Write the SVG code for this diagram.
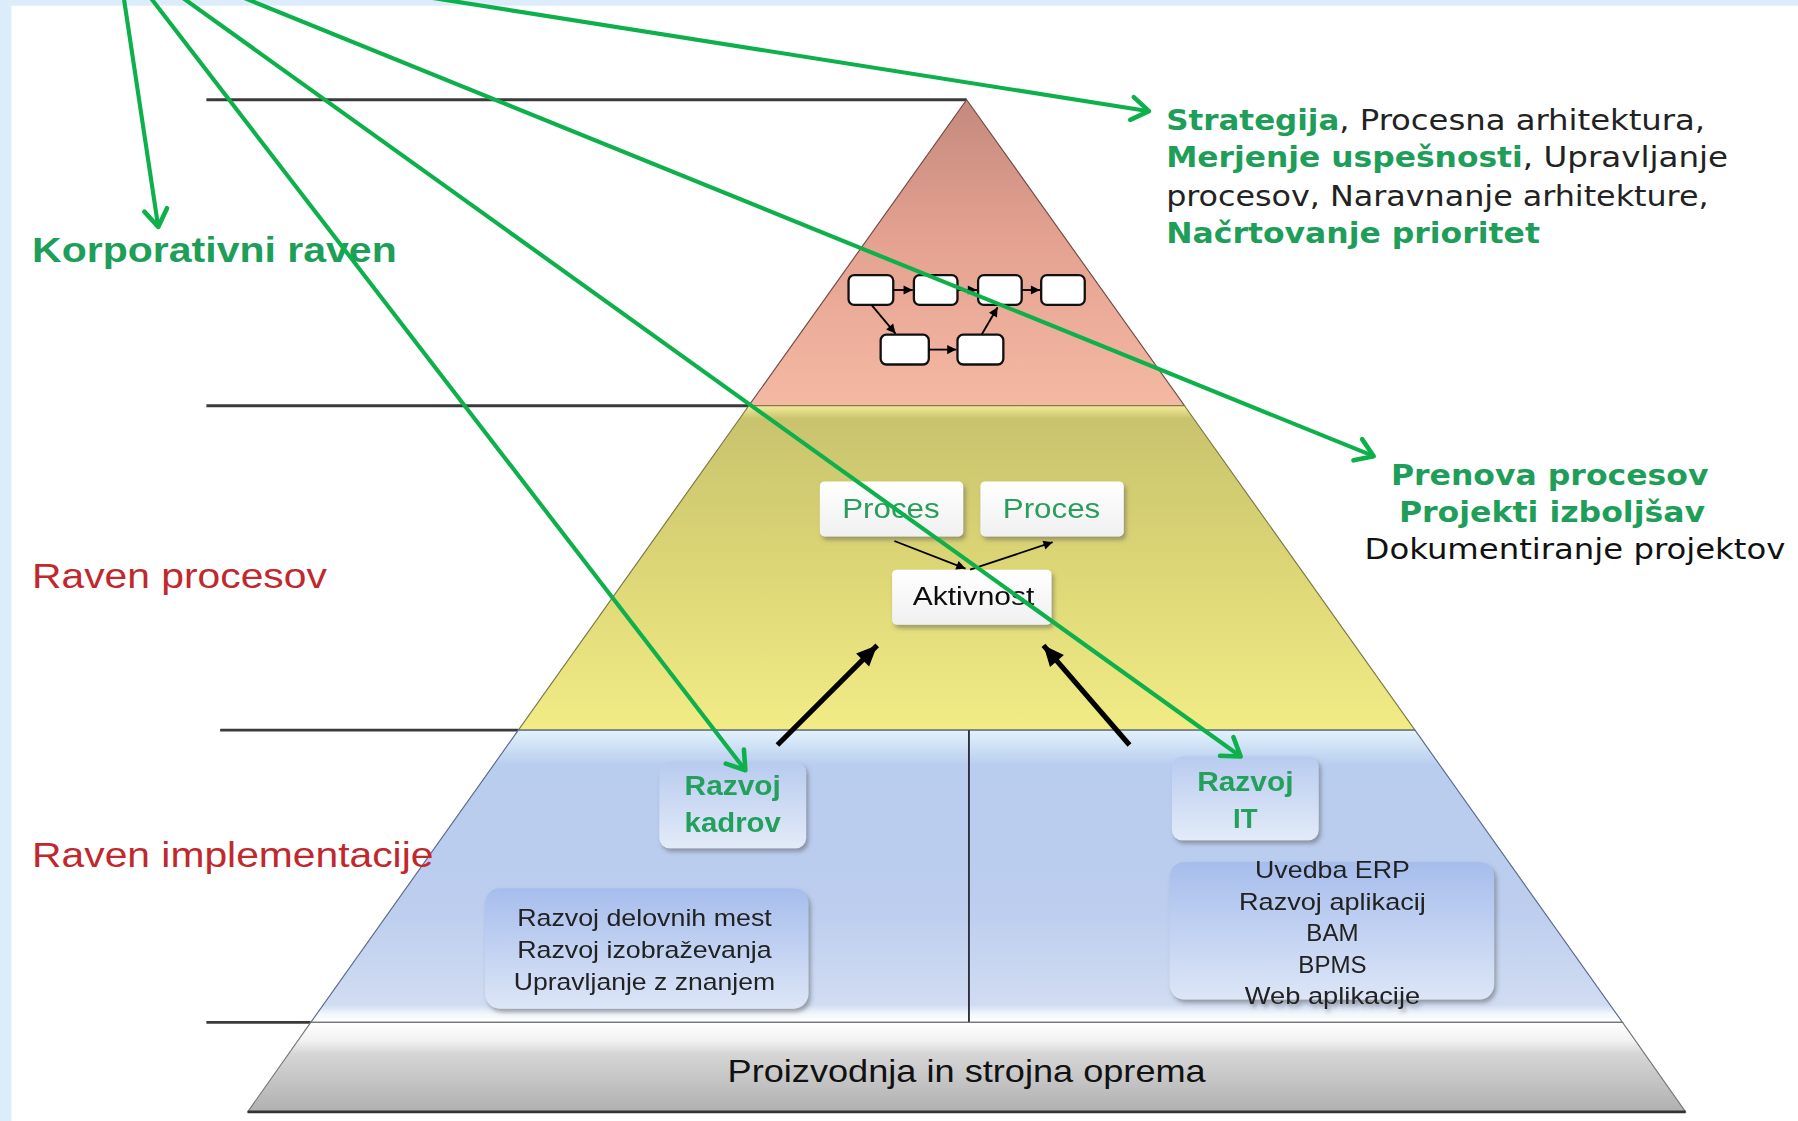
<svg xmlns="http://www.w3.org/2000/svg" width="1798" height="1121" viewBox="0 0 1798 1121">
<style>
.hl{stroke:#3a3a3a;stroke-width:2.5;fill:none}
.ga{stroke:#0db04b;stroke-width:3.6;fill:none;marker-end:url(#gh)}
.ba{stroke:#000;stroke-width:4.5;fill:none;marker-end:url(#bh)}
.sa{stroke:#000;stroke-width:1.6;fill:none;marker-end:url(#sh)}
.lvl{font-family:"Liberation Sans",Arial,sans-serif;font-size:31px}
.red{fill:#c0282e}
.grn{fill:#1e9e58}
.rt{font-family:"DejaVu Sans Condensed","DejaVu Sans",sans-serif;font-size:24px;fill:#222}
.rtb{font-weight:bold;fill:#1e9e58}
.pv{font-family:"DejaVu Sans",Verdana,sans-serif;font-size:24px}
.bx{font-family:"Liberation Sans",Arial,sans-serif;text-anchor:middle}
.sb{fill:#fff;stroke:#111;stroke-width:2}
</style>
<defs>
<marker id="gh" markerUnits="userSpaceOnUse" markerWidth="40" markerHeight="40" refX="0" refY="0" viewBox="-20 -20 40 40" orient="auto">
<path d="M-15,-10 L0,0 L-15,10" fill="none" stroke="#0db04b" stroke-width="4" stroke-linecap="round" stroke-linejoin="round"/>
</marker>
<marker id="bh" markerUnits="userSpaceOnUse" markerWidth="40" markerHeight="40" refX="0" refY="0" viewBox="-20 -20 40 40" orient="auto">
<path d="M-18,-8 L0,0 L-18,8 Z" fill="#000"/>
</marker>
<marker id="sh" markerUnits="userSpaceOnUse" markerWidth="20" markerHeight="20" refX="0" refY="0" viewBox="-10 -10 20 20" orient="auto">
<path d="M-8,-4 L0,0 L-8,4 Z" fill="#000"/>
</marker>
<linearGradient id="gPink" x1="0" y1="87" x2="0" y2="354" gradientUnits="userSpaceOnUse">
<stop offset="0" stop-color="#c48a7e"/>
<stop offset="0.45" stop-color="#e4a190"/>
<stop offset="1" stop-color="#f4b9a3"/>
</linearGradient>
<linearGradient id="gYel" x1="0" y1="354" x2="0" y2="637" gradientUnits="userSpaceOnUse">
<stop offset="0" stop-color="#f3ec9a"/>
<stop offset="0.04" stop-color="#c9c36e"/>
<stop offset="0.5" stop-color="#dcd676"/>
<stop offset="1" stop-color="#f1ec86"/>
</linearGradient>
<linearGradient id="gBlue" x1="0" y1="637" x2="0" y2="892" gradientUnits="userSpaceOnUse">
<stop offset="0" stop-color="#e2f2fb"/>
<stop offset="0.12" stop-color="#b9cdef"/>
<stop offset="0.6" stop-color="#bccdee"/>
<stop offset="0.94" stop-color="#d0dcf2"/>
<stop offset="0.97" stop-color="#f2f6fb"/>
<stop offset="1" stop-color="#ffffff"/>
</linearGradient>
<linearGradient id="gGray" x1="0" y1="892" x2="0" y2="970" gradientUnits="userSpaceOnUse">
<stop offset="0" stop-color="#ffffff"/>
<stop offset="0.2" stop-color="#f2f2f2"/>
<stop offset="0.35" stop-color="#d6d6d6"/>
<stop offset="1" stop-color="#b0b0b0"/>
</linearGradient>
<linearGradient id="gWbox" x1="0" y1="0" x2="0" y2="1">
<stop offset="0" stop-color="#ffffff"/>
<stop offset="1" stop-color="#f0f0f0"/>
</linearGradient>
<linearGradient id="gLbox" x1="0" y1="0" x2="0" y2="1">
<stop offset="0" stop-color="#b8cbef"/>
<stop offset="1" stop-color="#e3ebf8"/>
</linearGradient>
<linearGradient id="gList" x1="0" y1="0" x2="0" y2="1">
<stop offset="0" stop-color="#a6bdec"/>
<stop offset="1" stop-color="#dde6f7"/>
</linearGradient>
<filter id="sh2" x="-20%" y="-20%" width="140%" height="150%">
<feDropShadow dx="2" dy="3" stdDeviation="2" flood-color="#555" flood-opacity="0.5"/>
</filter>
</defs>
<rect x="0" y="0" width="1798" height="1121" fill="#dcecfb"/>
<g transform="scale(1.14668,1.14622)">
<rect x="10" y="5" width="1560" height="975" fill="#ffffff"/>

<g id="guides">
<line class="hl" x1="180" y1="87" x2="843" y2="87"/>
<line class="hl" x1="180" y1="354" x2="653" y2="354"/>
<line class="hl" x1="192" y1="637" x2="452" y2="637"/>
<line class="hl" x1="180" y1="892" x2="271" y2="892"/>
</g>

<g id="pyramid-corporate">
<polygon points="843,87 1033,354 653,354" fill="url(#gPink)" stroke="#6d4a44" stroke-width="1"/>
<g id="mini-process">
<rect class="sb" x="740" y="240" width="39" height="26" rx="5"/>
<rect class="sb" x="797" y="240" width="38" height="26" rx="5"/>
<rect class="sb" x="853" y="240" width="38" height="26" rx="5"/>
<rect class="sb" x="908" y="240" width="38" height="26" rx="5"/>
<rect class="sb" x="768" y="292" width="42" height="26" rx="5"/>
<rect class="sb" x="835" y="292" width="40" height="26" rx="5"/>
<line class="sa" x1="779" y1="253" x2="796" y2="253"/>
<line class="sa" x1="835" y1="253" x2="852" y2="253"/>
<line class="sa" x1="891" y1="253" x2="907" y2="253"/>
<line class="sa" x1="760" y1="266" x2="781" y2="291"/>
<line class="sa" x1="810" y1="305" x2="834" y2="305"/>
<line class="sa" x1="856" y1="292" x2="870" y2="268"/>
</g>
</g>

<g id="pyramid-process">
<polygon points="653,354 1033,354 1234,637 452,637" fill="url(#gYel)" stroke="#7a7640" stroke-width="1"/>
<g id="proc1" filter="url(#sh2)">
<rect x="715" y="420" width="125" height="48" rx="4" fill="url(#gWbox)"/>
<text class="bx" x="777" y="452" font-size="24" fill="#2a9d5c" textLength="85" lengthAdjust="spacingAndGlyphs">Proces</text>
</g>
<g id="proc2" filter="url(#sh2)">
<rect x="855" y="420" width="125" height="48" rx="4" fill="url(#gWbox)"/>
<text class="bx" x="917" y="452" font-size="24" fill="#2a9d5c" textLength="85" lengthAdjust="spacingAndGlyphs">Proces</text>
</g>
<g id="aktivnost" filter="url(#sh2)">
<rect x="778" y="497" width="139" height="48" rx="4" fill="url(#gWbox)"/>
<text class="bx" x="849" y="528" font-size="22" fill="#111" textLength="106" lengthAdjust="spacingAndGlyphs">Aktivnost</text>
</g>
<line class="sa" x1="780" y1="472" x2="842" y2="496"/>
<line class="sa" x1="846" y1="497" x2="918" y2="473"/>
</g>

<g id="pyramid-implementation">
<polygon points="452,637 1234,637 1415,892 271,892" fill="url(#gBlue)" stroke="#5a6a8a" stroke-width="1"/>
<line x1="845" y1="637" x2="845" y2="892" stroke="#2a2a3a" stroke-width="1.6"/>
<g id="kadrov" filter="url(#sh2)">
<rect x="575" y="665" width="128" height="75" rx="9" fill="url(#gLbox)"/>
<text class="bx" x="639" y="694" font-size="24" font-weight="bold" fill="#22a05c" textLength="84" lengthAdjust="spacingAndGlyphs">Razvoj</text>
<text class="bx" x="639" y="726" font-size="24" font-weight="bold" fill="#22a05c" textLength="84" lengthAdjust="spacingAndGlyphs">kadrov</text>
</g>
<g id="it" filter="url(#sh2)">
<rect x="1022" y="660" width="128" height="73" rx="9" fill="url(#gLbox)"/>
<text class="bx" x="1086" y="690" font-size="24" font-weight="bold" fill="#22a05c" textLength="84" lengthAdjust="spacingAndGlyphs">Razvoj</text>
<text class="bx" x="1086" y="722" font-size="24" font-weight="bold" fill="#22a05c">IT</text>
</g>
<g id="kadrov-list" filter="url(#sh2)">
<rect x="423" y="775" width="282" height="105" rx="13" fill="url(#gList)"/>
<text class="bx" x="562" y="808" font-size="21" fill="#222" textLength="222" lengthAdjust="spacingAndGlyphs">Razvoj delovnih mest</text>
<text class="bx" x="562" y="836" font-size="21" fill="#222" textLength="222" lengthAdjust="spacingAndGlyphs">Razvoj izobraževanja</text>
<text class="bx" x="562" y="864" font-size="21" fill="#222" textLength="228" lengthAdjust="spacingAndGlyphs">Upravljanje z znanjem</text>
</g>
<g id="it-list" filter="url(#sh2)">
<rect x="1020" y="752" width="283" height="120" rx="13" fill="url(#gList)"/>
<text class="bx" x="1162" y="766" font-size="21" fill="#222" textLength="135" lengthAdjust="spacingAndGlyphs">Uvedba ERP</text>
<text class="bx" x="1162" y="794" font-size="21" fill="#222" textLength="163" lengthAdjust="spacingAndGlyphs">Razvoj aplikacij</text>
<text class="bx" x="1162" y="821" font-size="21" fill="#222">BAM</text>
<text class="bx" x="1162" y="849" font-size="21" fill="#222">BPMS</text>
<text class="bx" x="1162" y="876" font-size="21" fill="#222" textLength="153" lengthAdjust="spacingAndGlyphs">Web aplikacije</text>
</g>
</g>

<g id="pyramid-base">
<polygon points="271,892 1415,892 1470,970 216,970" fill="url(#gGray)" stroke="#777" stroke-width="1"/>
<line x1="216" y1="970" x2="1470" y2="970" stroke="#333" stroke-width="2.5"/>
<text class="bx" x="843" y="944" font-size="28" fill="#111" textLength="417" lengthAdjust="spacingAndGlyphs">Proizvodnja in strojna oprema</text>
</g>

<g id="level-labels">
<text class="lvl grn" x="28" y="229" font-weight="bold" textLength="318" lengthAdjust="spacingAndGlyphs">Korporativni raven</text>
<text class="lvl red" x="28" y="513" textLength="257" lengthAdjust="spacingAndGlyphs">Raven procesov</text>
<text class="lvl red" x="28" y="756" textLength="350" lengthAdjust="spacingAndGlyphs">Raven implementacije</text>
</g>

<g id="corporate-text">
<text class="rt rtb" x="1017" y="113" textLength="151" lengthAdjust="spacingAndGlyphs">Strategija</text>
<text class="rt" x="1168" y="113" textLength="319" lengthAdjust="spacingAndGlyphs">, Procesna arhitektura,</text>
<text class="rt rtb" x="1017" y="146" textLength="311" lengthAdjust="spacingAndGlyphs">Merjenje uspešnosti</text>
<text class="rt" x="1328" y="146" textLength="179" lengthAdjust="spacingAndGlyphs">, Upravljanje</text>
<text class="rt" x="1017" y="180" textLength="473" lengthAdjust="spacingAndGlyphs">procesov, Naravnanje arhitekture,</text>
<text class="rt rtb" x="1017" y="212" textLength="326" lengthAdjust="spacingAndGlyphs">Načrtovanje prioritet</text>
</g>

<g id="process-text">
<text class="pv grn" x="1213" y="423" font-weight="bold" textLength="277" lengthAdjust="spacingAndGlyphs">Prenova procesov</text>
<text class="pv grn" x="1220" y="455" font-weight="bold" textLength="267" lengthAdjust="spacingAndGlyphs">Projekti izboljšav</text>
<text class="pv" x="1190" y="488" fill="#111" textLength="367" lengthAdjust="spacingAndGlyphs">Dokumentiranje projektov</text>
</g>

<g id="connectors">
<line class="ba" x1="678" y1="650" x2="765" y2="563"/>
<line class="ba" x1="985" y1="650" x2="910" y2="563"/>
<line class="ga" x1="107.5" y1="-5" x2="138" y2="198"/>
<line class="ga" x1="129" y1="-5" x2="650" y2="672"/>
<line class="ga" x1="155" y1="-5" x2="1082" y2="660"/>
<line class="ga" x1="205" y1="-5" x2="1198" y2="398"/>
<line class="ga" x1="357" y1="-5" x2="1002" y2="97"/>
</g>
</g>
</svg>
